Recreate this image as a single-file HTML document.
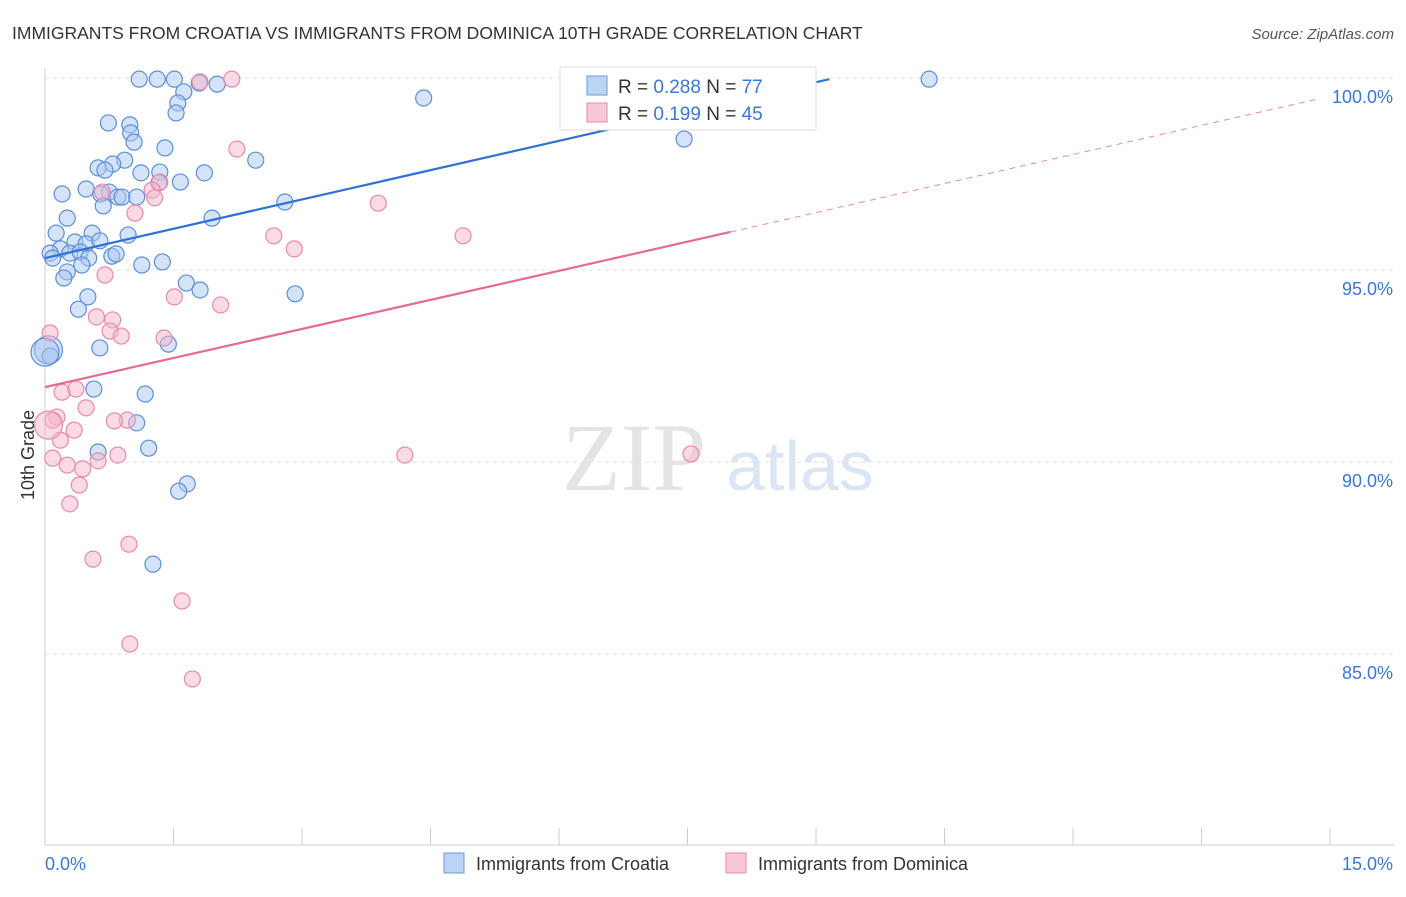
<!DOCTYPE html>
<html><head><meta charset="utf-8"><style>
body{margin:0;background:#fff;font-family:"Liberation Sans",sans-serif}
</style></head><body>
<svg id="c" width="1406" height="892" xmlns="http://www.w3.org/2000/svg">
<text x="12" y="39" font-size="17.5" fill="#333">IMMIGRANTS FROM CROATIA VS IMMIGRANTS FROM DOMINICA 10TH GRADE CORRELATION CHART</text>
<text x="1394" y="39" font-size="15" fill="#555" text-anchor="end" font-style="italic">Source: ZipAtlas.com</text>
<text x="634" y="490" font-size="96" fill="#e4e4e4" font-family="Liberation Serif" text-anchor="middle">ZIP</text>
<text x="800" y="490" font-size="70" fill="#dbe6f5" text-anchor="middle">atlas</text>
<g id="grid"></g><g id="axes"></g><g id="marks"></g>
<g>
<rect x="560" y="67" width="256" height="63" fill="#fff" stroke="#ddd"/>
<rect x="587" y="76" width="20" height="19" fill="#bcd4f3" stroke="#6b9ad8"/>
<text x="618" y="93" font-size="19" fill="#333">R = <tspan fill="#3a78d4">0.288</tspan>   N = <tspan fill="#3a78d4">77</tspan></text>
<rect x="587" y="103" width="20" height="19" fill="#f8c8d7" stroke="#e88aa8"/>
<text x="618" y="120" font-size="19" fill="#333">R = <tspan fill="#3a78d4">0.199</tspan>   N = <tspan fill="#3a78d4">45</tspan></text>
</g>
<g>
<rect x="444" y="853" width="20" height="20" fill="#bcd4f3" stroke="#6b9ad8"/>
<text x="476" y="870" font-size="18" fill="#333">Immigrants from Croatia</text>
<rect x="726" y="853" width="20" height="20" fill="#f8c8d7" stroke="#e88aa8"/>
<text x="758" y="870" font-size="18" fill="#333">Immigrants from Dominica</text>
</g>
<text x="34" y="455" font-size="18" fill="#333" transform="rotate(-90 34 455)" text-anchor="middle">10th Grade</text>
</svg>
<script>
const yTicks=[100,95,90,85];
const yTickLabels=["100.0%","95.0%","90.0%","85.0%"];
const xTicks=[0,1.5,3,4.5,6,7.5,9,10.5,12,13.5,15];
const blueX=[1.10,1.31,1.51,1.80,2.01,1.62,1.55,1.53,0.74,0.99,1.00,1.04,1.40,0.93,0.79,0.62,0.70,1.12,1.34,1.86,1.58,1.33,0.48,0.20,0.75,0.65,0.85,0.90,1.07,0.68,0.26,1.95,2.46,2.80,0.13,0.55,0.97,0.35,0.48,0.64,0.18,0.06,0.09,0.29,0.41,0.51,0.78,0.83,0.43,1.13,1.37,0.26,0.22,1.65,1.81,0.50,2.92,0.39,1.44,0.64,0.04,0.06,0.57,1.17,1.07,1.21,0.62,1.66,1.56,1.26,4.42,7.46,10.32,0.00];
const blueY=[99.97,99.97,99.97,99.87,99.84,99.64,99.35,99.09,98.83,98.78,98.57,98.33,98.18,97.86,97.76,97.66,97.60,97.53,97.55,97.53,97.29,97.27,97.11,96.98,97.03,96.98,96.90,96.90,96.90,96.67,96.35,96.35,97.86,96.77,95.96,95.96,95.91,95.73,95.68,95.76,95.55,95.44,95.31,95.44,95.47,95.31,95.36,95.42,95.13,95.13,95.21,94.95,94.79,94.66,94.48,94.30,94.38,93.98,93.07,92.97,92.92,92.76,91.90,91.77,91.02,90.36,90.26,89.43,89.24,87.34,99.48,98.41,99.97,92.86];
const pinkX=[1.81,2.18,2.24,1.34,1.25,0.67,1.28,1.05,3.89,2.67,2.91,4.88,0.70,1.51,2.05,0.60,0.79,0.76,0.89,1.39,0.06,0.20,0.36,0.48,0.14,0.09,0.96,0.81,0.34,0.18,0.09,0.85,4.20,0.62,0.26,0.44,0.40,0.29,7.54,0.98,0.56,1.60,0.99,1.72,0.04];
const pinkY=[99.90,99.97,98.15,97.29,97.08,97.03,96.88,96.48,96.74,95.89,95.55,95.89,94.87,94.30,94.09,93.78,93.70,93.41,93.28,93.23,93.36,91.82,91.90,91.41,91.17,91.09,91.09,91.07,90.83,90.57,90.10,90.18,90.18,90.03,89.92,89.82,89.40,88.91,90.21,87.86,87.47,86.38,85.26,84.35,90.96];
const blueTrend=[95.31,0.509], pinkTrend=[91.95,0.505];
const X=v=>45+v*85.67, Y=v=>78+(100-v)*38.4;
const NS="http://www.w3.org/2000/svg";
function mk(parent,tag,attrs){const e=document.createElementNS(NS,tag);for(const k in attrs)e.setAttribute(k,attrs[k]);document.getElementById(parent).appendChild(e);return e;}
yTicks.forEach((t,i)=>{
 const g=mk('grid','line',{x1:45,x2:1394,y1:Y(t),y2:Y(t),stroke:"#e2e2e2","stroke-dasharray":"4,4"});
 
 
 const l=mk('axes','text',{x:1393,y:Y(t)+25,"font-size":18,fill:"#3a78d4","text-anchor":"end"});
 l.textContent=yTickLabels[i];
 
 
});
const ax=mk('axes','line',{x1:45,x2:1394,y1:845,y2:845,stroke:"#ccc"});


const ay=mk('axes','line',{x1:45,x2:45,y1:68,y2:845,stroke:"#ccc"});


xTicks.forEach(t=>{const k=mk('axes','line',{x1:X(t),x2:X(t),y1:828,y2:845,stroke:"#ccc"});
 
 });
const xl0=mk('axes','text',{x:45,y:870,"font-size":18,fill:"#3a78d4"});xl0.textContent="0.0%";


const xl1=mk('axes','text',{x:1393,y:870,"font-size":18,fill:"#3a78d4","text-anchor":"end"});xl1.textContent="15.0%";


function pts(xs,ys,fill,stroke,name){xs.forEach((x,i)=>{const big=(x===0||x===0.04);
 const c=mk('marks','circle',{cx:X(x),cy:Y(ys[i]),r:big?14:8,fill:fill,"fill-opacity":0.5,stroke:stroke,"stroke-width":1.2});
 
 });}
pts(blueX,blueY,"#a9c8f0","#5b8fd6",'croatia-point');
pts(pinkX,pinkY,"#f5b8cc","#e88aa8",'dominica-point');
const bx1=(99.97-blueTrend[0])/blueTrend[1];
const bl=mk('marks','line',{x1:X(0),y1:Y(blueTrend[0]),x2:X(bx1),y2:Y(blueTrend[0]+blueTrend[1]*bx1),stroke:"#2f72d6","stroke-width":2.2});


const pl=mk('marks','line',{x1:X(0),y1:Y(pinkTrend[0]),x2:X(8),y2:Y(pinkTrend[0]+pinkTrend[1]*8),stroke:"#e56b95","stroke-width":2.2});


const pd=mk('marks','line',{x1:X(8),y1:Y(pinkTrend[0]+pinkTrend[1]*8),x2:X(14.88),y2:Y(pinkTrend[0]+pinkTrend[1]*14.88),stroke:"#e88aa8","stroke-width":1,"stroke-dasharray":"6,5"});


</script>
</body></html>
